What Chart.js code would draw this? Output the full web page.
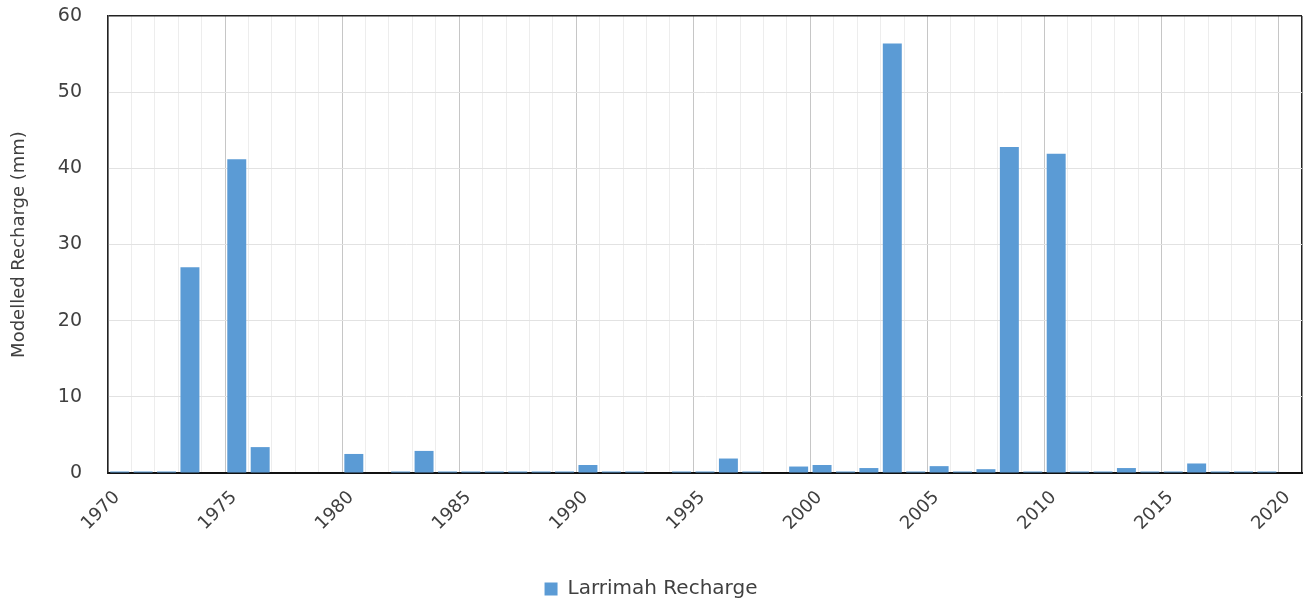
<!DOCTYPE html>
<html>
<head>
<meta charset="utf-8">
<script src="https://cdn.jsdelivr.net/npm/chart.js@4.4.0/dist/chart.umd.min.js"></script>
<style>
  html, body { margin: 0; padding: 0; background: #fff; }
  #wrap { width: 1306px; height: 600px; }
</style>
</head>
<body>
<div id="wrap"><canvas id="chart"></canvas></div>
<script>
// years shown on the x axis, one bar per year
var years = [
    1970, 1971, 1972, 1973, 1974, 1975, 1976, 1977, 1978, 1979,
    1980, 1981, 1982, 1983, 1984, 1985, 1986, 1987, 1988, 1989,
    1990, 1991, 1992, 1993, 1994, 1995, 1996, 1997, 1998, 1999,
    2000, 2001, 2002, 2003, 2004, 2005, 2006, 2007, 2008, 2009,
    2010, 2011, 2012, 2013, 2014, 2015, 2016, 2017, 2018, 2019,
    2020
];

// modelled recharge (mm)
var recharge = [
    0.2, 0.2, 0.2, 27.0, 0, 41.2, 3.4, 0, 0, 0,
    2.5, 0, 0.2, 2.9, 0.2, 0.2, 0.2, 0.2, 0.2, 0.2,
    1.05, 0.2, 0.2, 0, 0.2, 0.2, 1.9, 0.2, 0, 0.85,
    1.05, 0.2, 0.65, 56.4, 0.2, 0.9, 0.2, 0.5, 42.8, 0.2,
    41.9, 0.2, 0.2, 0.65, 0.2, 0.2, 1.25, 0.2, 0.2, 0.2,
    0
];

var yTicks = [0, 10, 20, 30, 40, 50, 60];
var seriesLabel = 'Larrimah Recharge';
var yTitle = 'Modelled Recharge (mm)';

var barColor = '#5b9bd5';
var textColor = '#404040';
var fontFamily = '"DejaVu Sans", sans-serif';

// each year's bar sits between its gridline and the next one
var points = years.map(function(y, i) {
    return { x: y + 0.5, y: recharge[i] };
});

function tickValue(c) {
    return (c && c.tick) ? c.tick.value : null;
}

function isWhole(v, step) {
    var r = Math.round(v / step) * step;
    return Math.abs(v - r) < 1e-6;
}

var lastYear = years[years.length - 1];

var ctx = document.getElementById('chart').getContext('2d');
var chart = new Chart(ctx, {
    type: 'bar',
    data: {
        datasets: [{
            label: seriesLabel,
            data: points,
            backgroundColor: barColor,
            borderWidth: 0,
            categoryPercentage: 0.9,
            barPercentage: 0.9
        }]
    },
    options: {
        responsive: true,
        maintainAspectRatio: false,
        animation: false,
        layout: { padding: { top: 16, right: 4, left: 0, bottom: -9 } },
        plugins: {
            legend: {
                position: 'bottom',
                labels: {
                    boxWidth: 13,
                    boxHeight: 13,
                    padding: 3,
                    color: textColor,
                    font: { family: fontFamily, size: 20 }
                }
            },
            tooltip: { enabled: false }
        },
        scales: {
            x: {
                type: 'linear',
                offset: false,
                min: years[0],
                max: lastYear + 1,
                ticks: {
                    stepSize: 1,
                    autoSkip: false,
                    maxRotation: 45,
                    minRotation: 45,
                    padding: 14,
                    labelOffset: 9,
                    color: textColor,
                    font: { family: fontFamily, size: 18 },
                    callback: function(value) {
                        if (value > lastYear) return '';
                        return isWhole(value, 5) ? String(Math.round(value)) : '';
                    }
                },
                grid: {
                    offset: false,
                    color: function(c) {
                        var v = tickValue(c);
                        if (v === null) return '#ededed';
                        if (v > lastYear + 0.5) return '#222';
                        return isWhole(v, 5) ? '#c6c6c6' : '#ededed';
                    },
                    lineWidth: function(c) {
                        var v = tickValue(c);
                        return (v !== null && v > lastYear + 0.5) ? 1.5 : 1;
                    },
                    drawTicks: false
                },
                border: { color: '#111', width: 2 },
                afterFit: function(scale) {
                    scale.height = 103;
                    scale.paddingLeft = 0;
                    scale.paddingRight = 0;
                }
            },
            y: {
                min: yTicks[0],
                max: yTicks[yTicks.length - 1],
                ticks: {
                    stepSize: yTicks[1] - yTicks[0],
                    color: textColor,
                    padding: 26,
                    font: { family: fontFamily, size: 19 }
                },
                grid: {
                    color: function(c) {
                        return tickValue(c) === 60 ? '#222' : '#e2e2e2';
                    },
                    lineWidth: function(c) {
                        return tickValue(c) === 60 ? 1.5 : 1;
                    },
                    drawTicks: false
                },
                border: { color: '#222', width: 1.5 },
                title: {
                    display: true,
                    text: yTitle,
                    color: textColor,
                    font: { family: fontFamily, size: 18 },
                    padding: { top: 9, bottom: 0 }
                },
                afterFit: function(scale) {
                    scale.width = 108;
                    scale.paddingTop = 0;
                    scale.paddingBottom = 0;
                }
            }
        }
    }
});
</script>
</body>
</html>
